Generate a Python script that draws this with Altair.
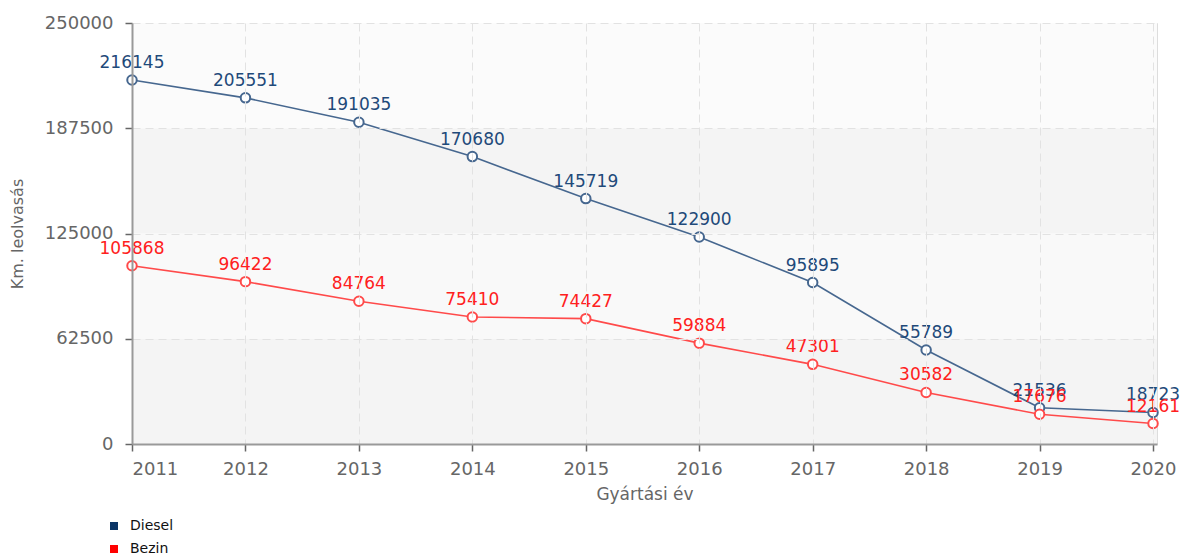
import altair as alt
import pandas as pd

years = [2011, 2012, 2013, 2014, 2015, 2016, 2017, 2018, 2019, 2020]
diesel = [216145, 205551, 191035, 170680, 145719, 122900, 95895, 55789, 21536, 18723]
bezin = [105868, 96422, 84764, 75410, 74427, 59884, 47301, 30582, 17676, 12161]
series_names = ["Diesel", "Bezin"]
y_ticks = [0, 62500, 125000, 187500, 250000]
band_lo = [0, 62500, 125000, 187500]
band_hi = [62500, 125000, 187500, 250000]
band_fill = ["#f4f4f4", "#f9f9f9", "#f4f4f4", "#fbfbfb"]

FONT = "DejaVu Sans"
W, H = 1025, 421

df = pd.DataFrame({
    "year": years * 2,
    "value": diesel + bezin,
    "series": ["Diesel"] * len(years) + ["Bezin"] * len(years),
})
bands = pd.DataFrame({"lo": band_lo, "hi": band_hi, "fill": band_fill})

# the plot frame runs a few pixels past the last year
xscale = alt.Scale(domain=[2011, 2020.035], nice=False, zero=False)
yscale = alt.Scale(domain=[0, 250000], nice=False)

xaxis = alt.Axis(values=years, format="d", title="Gyártási év", grid=True, zindex=1,
                 gridDash=[8, 5], gridColor="#e2e2e2", tickSize=7, tickColor="#666",
                 tickWidth=1.5, domainColor="#999", domainWidth=2, labelColor="#666",
                 labelFontSize=18, labelFont=FONT, titleFont=FONT, titleFontSize=17,
                 titleFontWeight="normal", titleColor="#666", labelPadding=9, titlePadding=8)
yaxis = alt.Axis(values=y_ticks, format="d", title="Km. leolvasás", grid=True, zindex=1,
                 gridDash=[8, 5], gridColor="#e2e2e2", tickSize=7, tickColor="#666",
                 tickWidth=1.5, domainColor="#999", domainWidth=2, labelColor="#666",
                 labelFontSize=18, labelFont=FONT, titleFont=FONT, titleFontSize=16,
                 titleFontWeight="normal", titleColor="#666", labelPadding=12, titlePadding=19)

band_layer = alt.Chart(bands).mark_rect().encode(
    x=alt.value(0), x2=alt.value(W),
    y=alt.Y("lo:Q", scale=yscale, axis=yaxis),
    y2="hi:Q",
    color=alt.Color("fill:N", scale=None),
)

line_col = {"Diesel": "#46678f", "Bezin": "#ff4a4a"}
text_col = {"Diesel": "#1f4a7a", "Bezin": "#ff2020"}

base = alt.Chart(df)

layers = [band_layer]
for s in series_names:
    b = base.transform_filter(alt.datum.series == s)
    layers.append(b.mark_line(strokeWidth=1.6, color=line_col[s]).encode(
        x=alt.X("year:Q", scale=xscale, axis=xaxis),
        y=alt.Y("value:Q", scale=yscale),
    ))
    layers.append(b.mark_point(shape="circle", size=90, filled=False, fill="white",
                               fillOpacity=1, strokeWidth=2, color=line_col[s], opacity=1).encode(
        x=alt.X("year:Q", scale=xscale),
        y=alt.Y("value:Q", scale=yscale),
    ))
for s in series_names:
    b = base.transform_filter(alt.datum.series == s)
    layers.append(b.mark_text(font=FONT, fontSize=17, dy=-17, color=text_col[s]).encode(
        x=alt.X("year:Q", scale=xscale),
        y=alt.Y("value:Q", scale=yscale),
        text=alt.Text("value:Q", format="d"),
    ))

legend_layer = base.mark_square(opacity=0, filled=True).encode(
    x=alt.X("year:Q", scale=xscale),
    y=alt.Y("value:Q", scale=yscale),
    color=alt.Color("series:N",
                    scale=alt.Scale(domain=series_names, range=["#0a3566", "#ff0000"]),
                    legend=alt.Legend(orient="none", legendX=-25, legendY=496, title=None,
                                      symbolType="square", symbolSize=64, symbolOpacity=1,
                                      symbolStrokeWidth=0,
                                      labelFont=FONT, labelFontSize=14, labelColor="#111",
                                      rowPadding=9, labelOffset=9)),
)
layers.append(legend_layer)

chart = alt.layer(*layers).properties(
    width=W, height=H,
    autosize=alt.AutoSizeParams(type="none"),
    padding={"left": 124, "top": 15, "right": 23, "bottom": 113},
).configure_view(stroke="#cccccc", strokeWidth=2).configure(background="white")

chart.save("out.html", embed_options={"renderer": "svg", "actions": False})
